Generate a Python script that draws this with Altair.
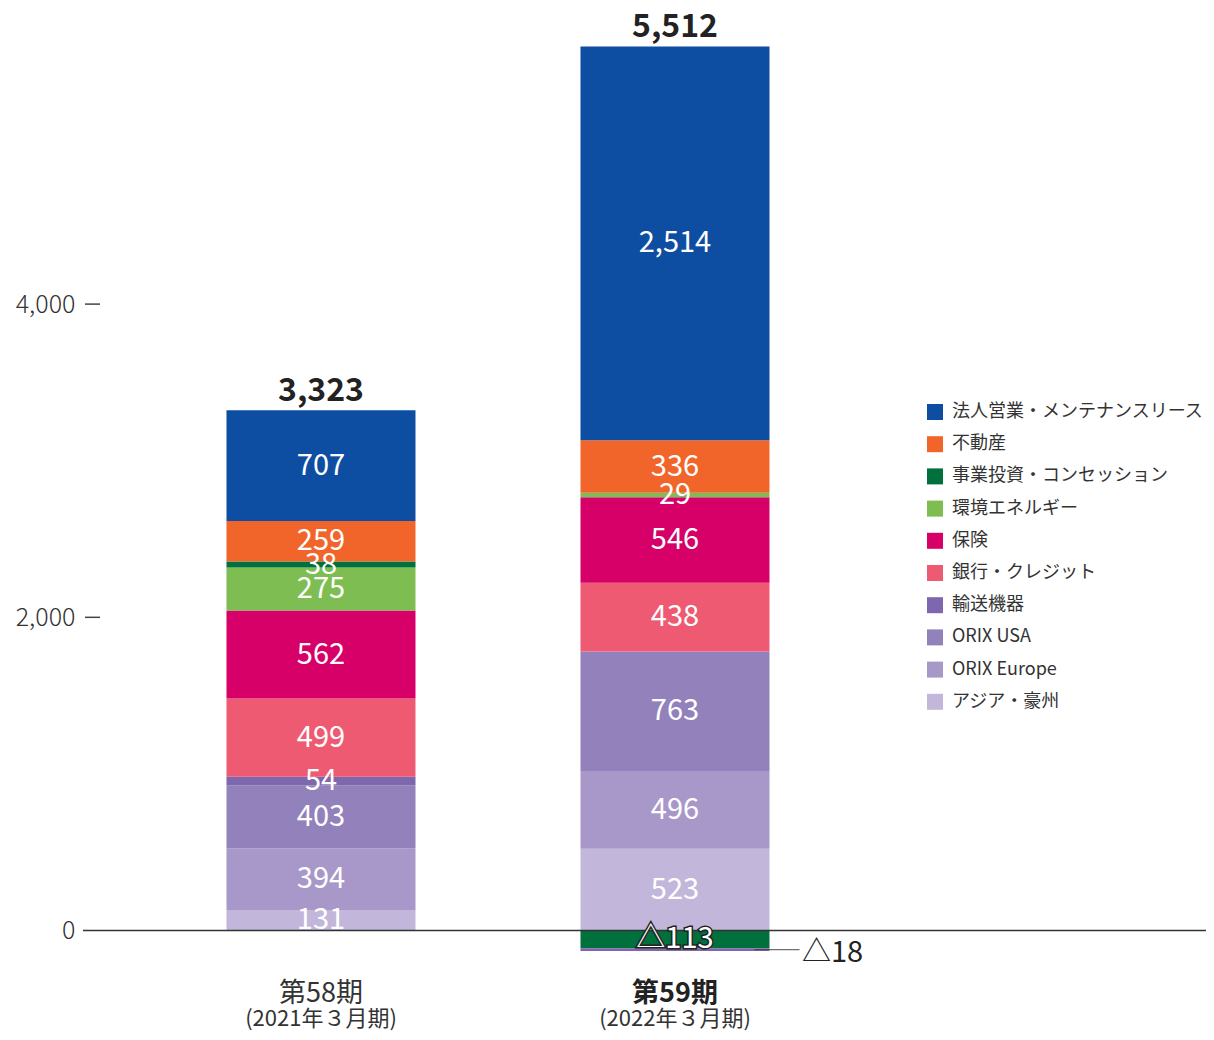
import altair as alt
import pandas as pd

FONT = "Noto Sans CJK JP"

periods = ["第58期", "第59期"]
period_sub = ["(2021年３月期)", "(2022年３月期)"]
period_bold = [False, True]

# legend order (top -> bottom)
segments = ["法人営業・メンテナンスリース", "不動産", "事業投資・コンセッション", "環境エネルギー",
            "保険", "銀行・クレジット", "輸送機器", "ORIX USA", "ORIX Europe", "アジア・豪州"]
colors = ["#0e4ea2", "#f2652a", "#00703c", "#7dbd52", "#d60068",
          "#ef5a73", "#7d67ad", "#9381bb", "#a898c9", "#c2b7da"]

# stacking order (bottom -> top)
stack_order = ["アジア・豪州", "ORIX Europe", "ORIX USA", "輸送機器", "銀行・クレジット",
               "保険", "環境エネルギー", "事業投資・コンセッション", "不動産", "法人営業・メンテナンスリース"]
values_58 = [131, 394, 403, 54, 499, 562, 275, 38, 259, 707]
values_59 = [523, 496, 763, -18, 438, 546, 29, -113, 336, 2514]
totals = [3323, 5512]
y_ticks = [0, 2000, 4000]

rows = []
tops = []
for p, vals in zip(periods, [values_58, values_59]):
    pos = 0
    for s, v in zip(stack_order, vals):
        if v >= 0:
            rows.append(dict(period=p, segment=s, value=v, y0=pos, y1=pos + v))
            pos += v
    tops.append(pos)
    neg = 0
    for s, v in reversed(list(zip(stack_order, vals))):
        if v < 0:
            rows.append(dict(period=p, segment=s, value=v, y0=neg, y1=neg + v))
            neg += v
df = pd.DataFrame(rows)
df["mid"] = (df["y0"] + df["y1"]) / 2
df["label"] = df["value"].apply(lambda v: f"{v:,}" if v >= 0 else "△" + f"{-v:,}")

pos_lab = df[df["value"] >= 0]
neg_in = df[(df["value"] < 0) & (df["value"] <= -50)]
neg_out = df[(df["value"] < 0) & (df["value"] > -50)]

tot_df = pd.DataFrame(dict(period=periods, top=tops, label=[f"{t:,}" for t in totals]))
xl_df = pd.DataFrame(dict(period=periods, sub=period_sub, bold=period_bold))
tick_df = pd.DataFrame(dict(v=[t for t in y_ticks if t != 0]))
zero_df = pd.DataFrame(dict(v=[0]))

yscale = alt.Scale(domain=[-220, 5846], nice=False, zero=False)
yaxis = alt.Axis(values=y_ticks, labelExpr="format(datum.value, ',')", domain=False, ticks=False,
                 grid=False, labelFontSize=25, labelColor="#333333", labelPadding=8,
                 labelFont=FONT, labelFontWeight=300, title=None)
xscale = alt.Scale(domain=periods, paddingInner=0.4661, paddingOuter=0.8192, align=0.2474)
X = alt.X("period:N", scale=xscale, axis=None, title=None)


def Y(field):
    return alt.Y(field, scale=yscale, axis=yaxis, title=None)


bars = alt.Chart(df).mark_bar().encode(
    x=X,
    y=Y("y0:Q"),
    y2="y1:Q",
    color=alt.Color("segment:N", scale=alt.Scale(domain=segments, range=colors),
                    legend=alt.Legend(orient="none", legendX=843, legendY=388, title=None,
                                      symbolType="square", symbolSize=256, symbolStrokeWidth=0,
                                      labelFontSize=18, labelColor="#333333", labelFont=FONT,
                                      labelOffset=8, rowPadding=14.2, padding=0, labelLimit=400)),
)

zero = alt.Chart(zero_df).mark_rule(color="#333333", strokeWidth=1.5).encode(y=Y("v:Q"))

dashes = alt.Chart(tick_df).mark_rule(color="#444444", strokeWidth=1.5).encode(
    y=Y("v:Q"), x=alt.value(2), x2=alt.value(17))

inlab = alt.Chart(pos_lab).mark_text(color="white", fontSize=29, font=FONT, fontWeight="normal",
                                      baseline="middle").encode(
    x=X, y=Y("mid:Q"), text="label:N")

neg_stroke = alt.Chart(neg_in).mark_text(color="#222222", stroke="#222222", strokeWidth=3,
                                          fontSize=29, font=FONT, fontWeight="normal",
                                          baseline="middle").encode(
    x=X, y=Y("mid:Q"), text="label:N")
neg_fill = alt.Chart(neg_in).mark_text(color="white", fontSize=29, font=FONT, fontWeight="normal",
                                        baseline="middle").encode(
    x=X, y=Y("mid:Q"), text="label:N")

leader = alt.Chart(neg_out).mark_tick(color="#333333", size=45, thickness=1.2, xOffset=102,
                                       orient="horizontal").encode(
    x=X, y=Y("mid:Q"))
neg_text = alt.Chart(neg_out).mark_text(color="#222222", fontSize=29, font=FONT, fontWeight="normal",
                                         align="left", baseline="middle", xOffset=127, dy=3).encode(
    x=X, y=Y("mid:Q"), text="label:N")

tot = alt.Chart(tot_df).mark_text(color="#222222", fontSize=32, font=FONT, fontWeight="bold",
                                   baseline="alphabetic", dy=-9).encode(
    x=X, y=Y("top:Q"), text="label:N")

xl1a = alt.Chart(xl_df[~xl_df["bold"]]).mark_text(color="#333333", fontSize=27, font=FONT,
                                                   baseline="middle").encode(
    x=X, y=alt.value(979), text="period:N")
xl1b = alt.Chart(xl_df[xl_df["bold"]]).mark_text(color="#222222", fontSize=27, font=FONT,
                                                  fontWeight="bold", baseline="middle").encode(
    x=X, y=alt.value(979), text="period:N")
xl2 = alt.Chart(xl_df).mark_text(color="#333333", fontSize=22, font=FONT,
                                 baseline="alphabetic").encode(
    x=X, y=alt.value(1011), text="sub:N")

chart = alt.layer(bars, zero, dashes, inlab, neg_stroke, neg_fill, leader, neg_text, tot,
                  xl1a, xl1b, xl2).properties(
    width=1123, height=950,
    autosize=alt.AutoSizeParams(type="none"),
    padding={"left": 75, "top": 7, "right": 0, "bottom": 67},
).configure_view(stroke=None).configure_text(font=FONT)

chart.save("out.html", embed_options={"renderer": "svg", "actions": False})
